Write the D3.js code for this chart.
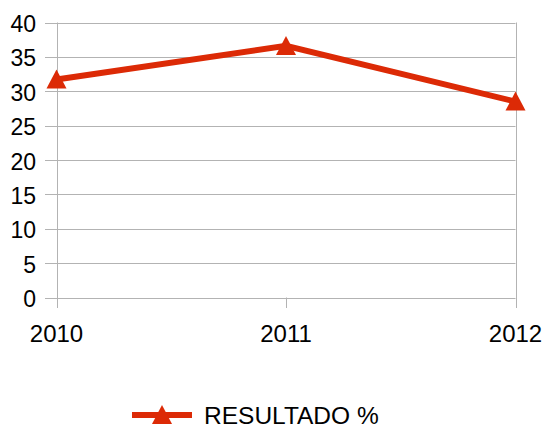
<!DOCTYPE html>
<html><head><meta charset="utf-8">
<script src="https://cdn.jsdelivr.net/npm/d3@7"></script>
<style>body{margin:0;background:#fff}svg{display:block}text{font-family:"Liberation Sans",Arial,sans-serif;fill:#000}</style>
</head><body>
<script>
const categories = ["2010", "2011", "2012"];
const values = [31.7, 36.6, 28.5];
const yTicks = [0, 5, 10, 15, 20, 25, 30, 35, 40];
const seriesName = "RESULTADO %";

const W = 545, H = 430;
const color = "#dc2a06";
const grid = "#b3b3b3";
const svg = d3.select("body").append("svg").attr("width", W).attr("height", H);

const x = d3.scalePoint().domain(categories).range([56.5, 515.5]);
const y = d3.scaleLinear().domain([0, 40]).range([297.5, 22.5]);

// horizontal grid lines
svg.append("g").selectAll("line").data(yTicks).join("line")
  .attr("x1", 45).attr("x2", 515.5)
  .attr("y1", d => Math.round(y(d)) + 0.5).attr("y2", d => Math.round(y(d)) + 0.5)
  .attr("stroke", grid).attr("stroke-width", 1);

// vertical lines: left axis, right edge, category ticks
svg.append("g").selectAll("line").data(categories).join("line")
  .attr("x1", d => Math.round(x(d)) + 0.5).attr("x2", d => Math.round(x(d)) + 0.5)
  .attr("y1", (d, i) => (i === 1 ? y(0) : y(40))).attr("y2", 308)
  .attr("stroke", grid).attr("stroke-width", 1);

// y labels
svg.append("g").selectAll("text").data(yTicks).join("text")
  .attr("x", 36).attr("y", d => y(d) + 9.5)
  .attr("text-anchor", "end").attr("font-size", 23).text(d => d);

// x labels
svg.append("g").selectAll("text").data(categories).join("text")
  .attr("x", d => x(d)).attr("y", 342)
  .attr("text-anchor", "middle").attr("font-size", 24).text(d => d);

// line
const pts = categories.map((c, i) => [x(c), y(values[i])]);
svg.append("path").attr("d", d3.line()(pts))
  .attr("fill", "none").attr("stroke", color).attr("stroke-width", 6).attr("stroke-linejoin", "miter");

const tri = (cx, cy) => `M${cx},${cy - 10}L${cx + 10},${cy + 9}L${cx - 10},${cy + 9}Z`;
svg.append("g").selectAll("path").data(pts).join("path")
  .attr("d", d => tri(d[0], d[1])).attr("fill", color);

// legend
svg.append("line").attr("x1", 132).attr("x2", 192).attr("y1", 415).attr("y2", 415)
  .attr("stroke", color).attr("stroke-width", 6);
svg.append("path").attr("d", tri(162, 415)).attr("fill", color);
svg.append("text").attr("x", 204).attr("y", 424).attr("font-size", 24.5).text(seriesName);
</script>
</body></html>
